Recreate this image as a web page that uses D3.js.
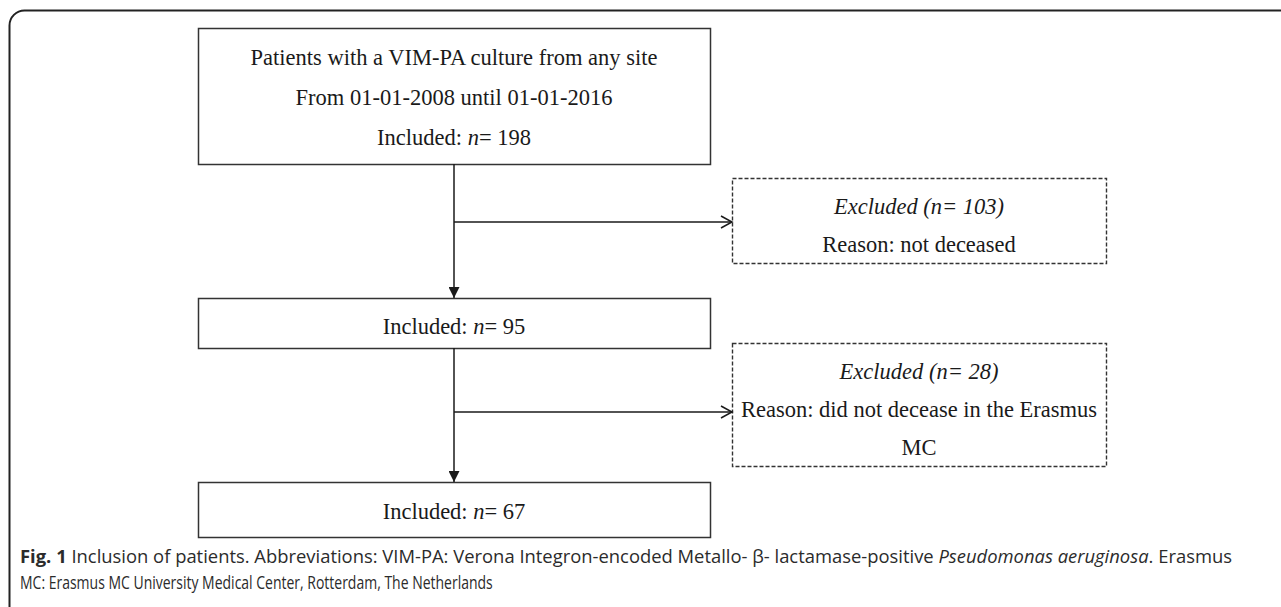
<!DOCTYPE html>
<html>
<head>
<meta charset="utf-8">
<script src="https://cdn.jsdelivr.net/npm/d3@7"></script>
<style>
  body { margin: 0; background: #fff; }
  svg { display: block; }
</style>
</head>
<body>
<div id="content"></div>
<script>
const width = 1281;
const height = 607;

// flow chart data
const headerLines = ["Patients with a VIM-PA culture from any site", "From 01-01-2008 until 01-01-2016"];
const includedCounts = [198, 95, 67];
const excludedCounts = [103, 28];
const excludedReasons = [
    ["Reason: not deceased"],
    ["Reason: did not decease in the Erasmus", "MC"]
];
const captionLine1 = [
    {t: "Fig. 1", w: "bold"},
    {t: " Inclusion of patients. Abbreviations: VIM-PA: Verona Integron-encoded Metallo- \u03B2- lactamase-positive "},
    {t: "Pseudomonas aeruginosa", s: "italic"},
    {t: ". Erasmus"}
];
const captionLine2 = "MC: Erasmus MC University Medical Center, Rotterdam, The Netherlands";

// layout
const mainX = [198, 710];
const sideX = [732, 1106];
const mainBoxes = [[28, 164], [298, 348], [482, 537]];
const sideBoxes = [[178, 263], [343, 466]];
const arrowY = [222, 412];
const lineGap = 40;
const sideGap = 38;
const fontSize = 22.5;

const serif = "'Liberation Serif', 'Times New Roman', serif";
const ink = "#1a1a1a";

var svg = d3.select("#content").append("svg")
    .attr("width", width)
    .attr("height", height);

// outer rounded frame (runs off the right/bottom edge)
svg.append("rect")
    .attr("x", 9.5).attr("y", 10.5)
    .attr("width", 1300).attr("height", 640)
    .attr("rx", 15).attr("ry", 15)
    .attr("fill", "none")
    .attr("stroke", "#222")
    .attr("stroke-width", 2);

var cx = d3.mean(mainX);

svg.append("defs").append("marker")
    .attr("id", "tri")
    .attr("viewBox", "0 0 10 10")
    .attr("refX", 10).attr("refY", 5)
    .attr("markerWidth", 11).attr("markerHeight", 11)
    .attr("markerUnits", "userSpaceOnUse")
    .attr("orient", "auto")
    .append("path")
    .attr("d", "M0,0 L10,5 L0,10 Z")
    .attr("fill", ink);

// main boxes
svg.selectAll(".mainbox").data(mainBoxes).enter().append("rect")
    .attr("class", "mainbox")
    .attr("x", mainX[0] + 0.5).attr("y", d => d[0] + 0.5)
    .attr("width", mainX[1] - mainX[0]).attr("height", d => d[1] - d[0])
    .attr("fill", "#fff")
    .attr("stroke", "#333")
    .attr("stroke-width", 1.5);

// excluded boxes
svg.selectAll(".sidebox").data(sideBoxes).enter().append("rect")
    .attr("class", "sidebox")
    .attr("x", sideX[0] + 0.5).attr("y", d => d[0] + 0.5)
    .attr("width", sideX[1] - sideX[0]).attr("height", d => d[1] - d[0])
    .attr("fill", "#fff")
    .attr("stroke", "#333")
    .attr("stroke-width", 1.4)
    .attr("stroke-dasharray", "4,2");

// vertical connectors with filled heads
for (let i = 0; i < 2; i++) {
    svg.append("line")
        .attr("x1", cx).attr("x2", cx)
        .attr("y1", mainBoxes[i][1]).attr("y2", mainBoxes[i + 1][0])
        .attr("stroke", ink).attr("stroke-width", 1.5)
        .attr("marker-end", "url(#tri)");

    // horizontal branch with open head
    var y = arrowY[i];
    svg.append("line")
        .attr("x1", cx).attr("x2", sideX[0])
        .attr("y1", y).attr("y2", y)
        .attr("stroke", ink).attr("stroke-width", 1.5);
    svg.append("path")
        .attr("d", `M${sideX[0] - 11},${y - 6} L${sideX[0]},${y} L${sideX[0] - 11},${y + 6}`)
        .attr("fill", "none").attr("stroke", ink).attr("stroke-width", 1.5);
}

function includedText(sel, n) {
    sel.append("tspan").text("Included: ");
    sel.append("tspan").attr("font-style", "italic").text("n");
    sel.append("tspan").text("= " + n);
}

function addText(x, y) {
    return svg.append("text")
        .attr("x", x).attr("y", y)
        .attr("dy", "0.33em")
        .attr("text-anchor", "middle")
        .attr("font-family", serif)
        .attr("font-size", fontSize)
        .attr("fill", ink);
}

// box 1 lines
headerLines.forEach((l, i) => {
    addText(cx, mainBoxes[0][0] + 30 + i * lineGap).text(l);
});
includedText(addText(cx, mainBoxes[0][0] + 30 + 2 * lineGap), includedCounts[0]);

for (let i = 1; i < 3; i++) {
    var mid = (mainBoxes[i][0] + mainBoxes[i][1]) / 2;
    includedText(addText(cx, mid + (i == 2 ? 2 : 4)), includedCounts[i]);
}

var sx = d3.mean(sideX);
excludedCounts.forEach((c, i) => {
    var top = sideBoxes[i][0] + 29;
    addText(sx, top).attr("font-style", "italic").text(`Excluded (n= ${c})`);
    excludedReasons[i].forEach((r, j) => {
        addText(sx, top + (j + 1) * sideGap).text(r);
    });
});

// caption (condensed sans; first line stretched to the full width)
var sans = "'Open Sans', 'Noto Sans', sans-serif";
const squeeze = 0.8;
function captionText(y) {
    return svg.append("g")
        .attr("transform", `translate(20, ${y}) scale(${squeeze}, 1)`)
        .append("text")
        .attr("x", 0).attr("y", 0)
        .attr("font-family", sans)
        .attr("font-size", 17.5)
        .attr("fill", "#2b2b2b");
}
var cap1 = captionText(563)
    .attr("textLength", 1212 / squeeze)
    .attr("lengthAdjust", "spacingAndGlyphs");
captionLine1.forEach(p => {
    cap1.append("tspan")
        .attr("font-weight", p.w || null)
        .attr("font-style", p.s || null)
        .text(p.t);
});
captionText(589).text(captionLine2);
</script>
</body>
</html>
